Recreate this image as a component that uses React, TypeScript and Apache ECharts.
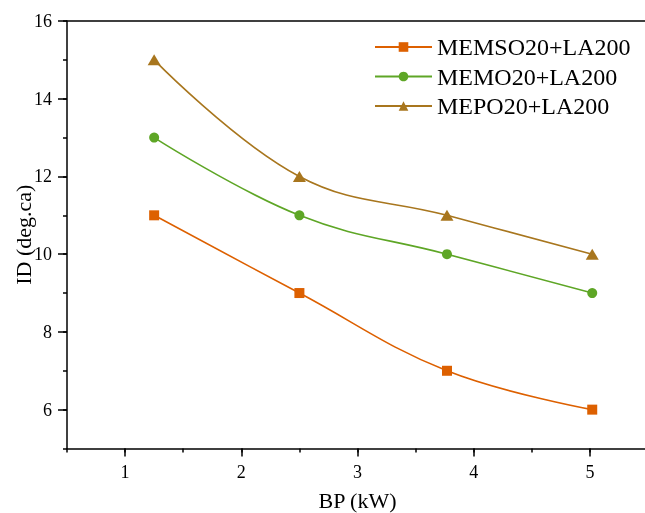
import React, { useEffect, useRef } from "react";
import * as echarts from "echarts";

const bp = [1.25, 2.5, 3.77, 5.02];
const memso = [11, 9, 7, 6];
const memo = [13, 11, 10, 9];
const mepo = [15, 12, 11, 10];
const seriesNames = ["MEMSO20+LA200", "MEMO20+LA200", "MEPO20+LA200"];
const xMajorTicks = [1, 2, 3, 4, 5];
const yMajorTicks = [6, 8, 10, 12, 14, 16];
const colors = ["#DD6000", "#5EA626", "#A8761E"];
const symbols = ["rect", "circle", "triangle"];
const symbolSizes: any[] = [10, 10, [13, 11]];

export default function App() {
  const ref = useRef<HTMLDivElement>(null);
  useEffect(() => {
    document.body.style.margin = "0";
    document.body.style.overflow = "hidden";
    if (!ref.current) return;
    const chart = echarts.init(ref.current, null, { renderer: "svg" });
    const font = "Liberation Serif";
    const data = [memso, memo, mepo];
    const axisColor = "#000";
    chart.setOption({
      animation: false,
      textStyle: { fontFamily: font },
      grid: { left: 67, top: 21, width: 581, height: 427.5, show: false, containLabel: false, outerBoundsMode: "none" },
      legend: {
        orient: "vertical",
        left: 369,
        top: 30,
        itemWidth: 57,
        itemHeight: 12,
        itemGap: 5.5,
        textStyle: { fontFamily: font, fontSize: 24, color: "#000" },
        data: seriesNames,
      },
      xAxis: [
        {
          type: "value",
          min: 0.5,
          max: 5.5,
          name: "BP (kW)",
          nameLocation: "middle",
          nameGap: 41,
          nameMoveOverlap: false,
          nameTextStyle: { fontFamily: font, fontSize: 22, color: "#000" },
          axisLine: { onZero: false, lineStyle: { color: axisColor, width: 1.5 } },
          axisTick: { show: true, inside: false, length: 8, customValues: xMajorTicks, lineStyle: { color: axisColor, width: 1.5 } },
          axisLabel: {
            fontFamily: font,
            fontSize: 18,
            color: "#000",
            margin: 14,
            customValues: xMajorTicks,
          },
          splitLine: { show: false },
        },
        {
          type: "value",
          position: "top",
          min: 0.5,
          max: 5.5,
          axisLine: { show: true, onZero: false, lineStyle: { color: axisColor, width: 1.5 } },
          axisTick: { show: false },
          axisLabel: { show: false },
          splitLine: { show: false },
        },
        {
          type: "value",
          position: "bottom",
          offset: 0,
          min: 0.5,
          max: 5.5,
          interval: 0.5,
          axisLine: { show: false, onZero: false },
          axisTick: { show: true, inside: false, length: 4, lineStyle: { color: axisColor, width: 1.5 } },
          axisLabel: { show: false },
          splitLine: { show: false },
        },
      ],
      yAxis: [
        {
          type: "value",
          min: 5,
          max: 16,
          name: "ID (deg.ca)",
          nameLocation: "middle",
          nameGap: 33,
          nameMoveOverlap: false,
          nameTextStyle: { fontFamily: font, fontSize: 22, color: "#000" },
          axisLine: { onZero: false, lineStyle: { color: axisColor, width: 1.5 } },
          axisTick: { show: true, inside: false, length: 9, customValues: yMajorTicks, lineStyle: { color: axisColor, width: 1.5 } },
          axisLabel: {
            fontFamily: font,
            fontSize: 18,
            color: "#000",
            margin: 15,
            customValues: yMajorTicks,
          },
          splitLine: { show: false },
        },
        {
          type: "value",
          position: "left",
          offset: 0,
          min: 5,
          max: 16,
          interval: 1,
          axisLine: { show: false, onZero: false },
          axisTick: { show: true, inside: false, length: 4, lineStyle: { color: axisColor, width: 1.5 } },
          axisLabel: { show: false },
          splitLine: { show: false },
        },
      ],
      series: seriesNames.map((name, k) => ({
        name,
        type: "line",
        xAxisIndex: 0,
        yAxisIndex: 0,
        smooth: 0.4,
        symbol: symbols[k],
        symbolSize: symbolSizes[k],
        itemStyle: { color: colors[k] },
        lineStyle: { color: colors[k], width: 1.6 },
        data: bp.map((x, i) => [x, data[k][i]]),
      })),
    });
    return () => chart.dispose();
  }, []);
  return <div ref={ref} style={{ width: 645, height: 513, position: "fixed", left: 0, top: 0 }} />;
}
